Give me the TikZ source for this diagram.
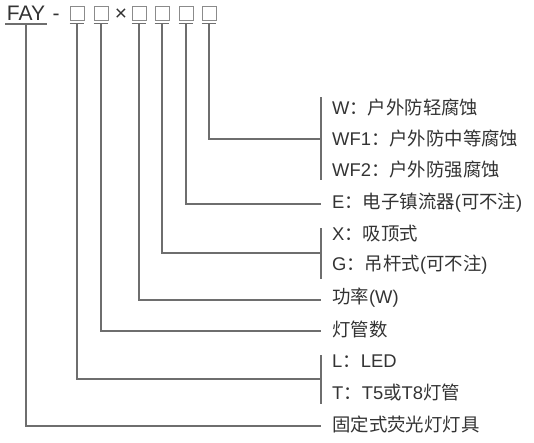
\documentclass[tikz,border=0pt]{standalone}
\usepackage{fontspec}
\setmainfont{Noto Sans CJK SC}
\newfontfamily\westfont{Liberation Sans}
\definecolor{linegray}{HTML}{6E6E6E}
\definecolor{textgray}{HTML}{333333}
\tikzset{
  lead/.style={draw=linegray, line width=1.1pt},
  codebox/.style={draw=linegray!80, line width=0.8pt, minimum size=14pt, inner sep=0pt},
  item/.style={anchor=west, inner sep=0pt, text=textgray, font=\fontsize{18.4}{21}\selectfont},
  head/.style={anchor=base, inner sep=0pt, text=textgray, font=\westfont\fontsize{21}{24}\selectfont},
}
\begin{document}
\begin{tikzpicture}[x=1pt, y=-1pt]
  \useasboundingbox (0,0) rectangle (534,442);
  % Code en tete
  \node[head] (fay) at (26,20) {FAY};
  \node[head] (dash) at (56,20) {-};
  \node[head] (times) at (121,20) {×};
  \node[codebox] (b1) at (77,13) {};
  \node[codebox] (b2) at (101,13) {};
  \node[codebox] (b3) at (139,13) {};
  \node[codebox] (b4) at (162,13) {};
  \node[codebox] (b5) at (186,13) {};
  \node[codebox] (b6) at (209,13) {};
  % Soulignements
  \draw[lead] (5,24) coordinate (u0) -- (47,24);
  \foreach \b in {b1,b2,b3,b4,b5,b6}
    \draw[lead] ([yshift=-3pt]\b.south west) -- ([yshift=-3pt]\b.south east);
  % Libelles
  \node[item] (tW) at (332,108) {{\westfont W}：户外防轻腐蚀};
  \node[item] (tWF1) at (332,139) {{\westfont WF1}：户外防中等腐蚀};
  \node[item] (tWF2) at (332,170) {{\westfont WF2}：户外防强腐蚀};
  \node[item] (tE) at (332,203) {{\westfont E}：电子镇流器{\westfont(}可不注{\westfont)}};
  \node[item] (tX) at (332,234) {{\westfont X}：吸顶式};
  \node[item] (tG) at (332,265) {{\westfont G}：吊杆式{\westfont(}可不注{\westfont)}};
  \node[item] (tP) at (332,298) {功率{\westfont(W)}};
  \node[item] (tN) at (332,329) {灯管数};
  \node[item] (tL) at (332,361) {{\westfont L}：{\westfont LED}};
  \node[item] (tT) at (332,392) {{\westfont T}：{\westfont T5}或{\westfont T8}灯管};
  \node[item] (tF) at (332,424) {固定式荧光灯灯具};
  % Accolades verticales
  \draw[lead] (321,97) -- (321,180);
  \draw[lead] (321,228) -- (321,279);
  \draw[lead] (321,355) -- (321,404);
  % Points d'arrivee
  \coordinate (e6) at (321,139);
  \coordinate (e5) at (321,204);
  \coordinate (e4) at (321,253);
  \coordinate (e3) at (321,300);
  \coordinate (e2) at (321,331);
  \coordinate (e1) at (321,379);
  \coordinate (e0) at (321,426);
  % Lignes de renvoi
  \draw[lead] ([yshift=-3pt]b6.south) |- (e6);
  \draw[lead] ([yshift=-3pt]b5.south) |- (e5);
  \draw[lead] ([yshift=-3pt]b4.south) |- (e4);
  \draw[lead] ([yshift=-3pt]b3.south) |- (e3);
  \draw[lead] ([yshift=-3pt]b2.south) |- (e2);
  \draw[lead] ([yshift=-3pt]b1.south) |- (e1);
  \draw[lead] (26,24) |- (e0);
\end{tikzpicture}
\end{document}
